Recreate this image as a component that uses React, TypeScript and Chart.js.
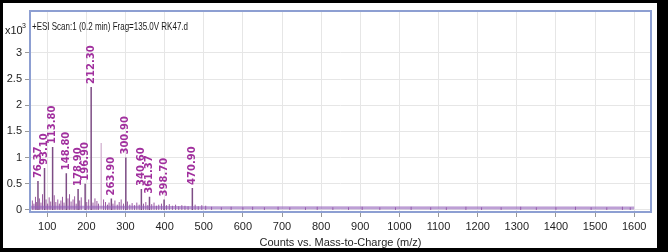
import React, { useEffect, useRef } from "react";
import { Chart, registerables } from "chart.js";

Chart.register(...registerables);

const titleText = "+ESI Scan:1 (0.2 min) Frag=135.0V RK47.d";
const xAxisTitle = "Counts vs. Mass-to-Charge (m/z)";

const peakMz = [76.37, 93.1, 113.8, 148.8, 178.9, 196.9, 212.3, 263.9, 300.9, 340.6, 361.37, 398.7, 470.9];
const peakIntensity = [0.55, 0.8, 1.2, 0.7, 0.4, 0.5, 2.35, 0.22, 1.0, 0.4, 0.25, 0.2, 0.42];
const peakLabels = ["76.37", "93.10", "113.80", "148.80", "178.90", "196.90", "212.30", "263.90", "300.90", "340.60", "361.37", "398.70", "470.90"];

const paleMz = [238.0];
const paleIntensity = [1.28];

const noiseMz = [
  62, 66, 70, 73, 80, 84, 88, 97, 101, 105, 109, 118, 122, 127, 131, 135, 139, 143, 153, 157,
  161, 166, 170, 174, 183, 187, 201, 206, 217, 222, 227, 231, 244, 249, 254, 258, 268, 273, 279,
  284, 289, 295, 305, 311, 317, 323, 329, 335, 346, 352, 357, 367, 373, 379, 385, 392, 405, 412,
  420, 428, 436, 444, 452, 460, 478, 486, 495, 505, 520, 545, 570, 600, 625, 655, 690, 720, 760,
  790, 830, 870, 905, 950, 990, 1030, 1080, 1120, 1170, 1210, 1260, 1310, 1350, 1400, 1450, 1490,
  1530, 1570, 1590,
];
const noiseIntensity = [
  0.18, 0.12, 0.25, 0.15, 0.22, 0.14, 0.3, 0.2, 0.12, 0.24, 0.16, 0.28, 0.15, 0.2, 0.12, 0.18,
  0.25, 0.14, 0.22, 0.3, 0.16, 0.2, 0.26, 0.12, 0.18, 0.24, 0.15, 0.2, 0.14, 0.22, 0.17, 0.12,
  0.2, 0.15, 0.1, 0.14, 0.12, 0.18, 0.1, 0.15, 0.2, 0.12, 0.16, 0.1, 0.13, 0.09, 0.14, 0.1, 0.12,
  0.15, 0.09, 0.11, 0.14, 0.08, 0.1, 0.12, 0.09, 0.11, 0.08, 0.1, 0.07, 0.09, 0.08, 0.07, 0.1,
  0.07, 0.09, 0.08, 0.06, 0.05, 0.06, 0.05, 0.06, 0.05, 0.06, 0.05, 0.05, 0.06, 0.05, 0.05, 0.06,
  0.05, 0.05, 0.06, 0.05, 0.05, 0.06, 0.05, 0.05, 0.06, 0.05, 0.05, 0.06, 0.05, 0.05, 0.06, 0.05,
];

const baselineMz = [56, 330, 520, 1600];
const baselineIntensity = [0.05, 0.05, 0.04, 0.035];

const xTicks = [100, 200, 300, 400, 500, 600, 700, 800, 900, 1000, 1100, 1200, 1300, 1400, 1500, 1600];
const yTicks = [0, 0.5, 1, 1.5, 2, 2.5, 3];

function sticks(mz: number[], h: number[]) {
  const pts: { x: number; y: number | null }[] = [];
  mz.forEach((m, i) => {
    pts.push({ x: m, y: 0 });
    pts.push({ x: m, y: h[i] });
    pts.push({ x: m, y: null });
  });
  return pts;
}

function line(mz: number[], h: number[]) {
  return mz.map((m, i) => ({ x: m, y: h[i] }));
}

const FONT = "'Liberation Sans Narrow', 'Liberation Sans', Arial, sans-serif";

export default function App() {
  const ref = useRef<HTMLCanvasElement | null>(null);

  useEffect(() => {
    if (!ref.current) return;
    const overlay = {
      id: "overlay",
      beforeDatasetsDraw(chart: any) {
        const { ctx, chartArea: a } = chart;
        ctx.save();
        ctx.fillStyle = "#1a1a1a";
        ctx.font = `11px ${FONT}`;
        ctx.textBaseline = "middle";
        ctx.textAlign = "left";
        ctx.fillText(titleText, a.left + 2, 27, 156);
        ctx.restore();
      },
      afterDatasetsDraw(chart: any) {
        const { ctx, chartArea: a, scales } = chart;
        const xs = scales.x;
        const ys = scales.y;
        ctx.save();
        ctx.fillStyle = "#a1309e";
        ctx.font = `bold 10px 'DejaVu Sans', sans-serif`;
        ctx.textBaseline = "middle";
        ctx.textAlign = "left";
        peakMz.forEach((m, i) => {
          const px = xs.getPixelForValue(m);
          const py = ys.getPixelForValue(peakIntensity[i]);
          ctx.save();
          ctx.translate(px, py - 3);
          ctx.rotate(-Math.PI / 2);
          ctx.fillText(peakLabels[i], 0, 0);
          ctx.restore();
        });
        ctx.restore();
        ctx.save();
        ctx.strokeStyle = "#8d9fd2";
        ctx.lineWidth = 2;
        ctx.strokeRect(a.left, a.top, a.right - a.left, a.bottom - a.top);
        ctx.restore();
        ctx.save();
        ctx.fillStyle = "#1a1a1a";
        ctx.font = `11px ${FONT}`;
        ctx.textBaseline = "middle";
        ctx.textAlign = "left";
        ctx.fillText("x10", 5, 31);
        ctx.font = `7px ${FONT}`;
        ctx.fillText("3", 22, 26);
        ctx.restore();
      },
    };

    const chart = new Chart(ref.current, {
      type: "scatter",
      data: {
        datasets: [
          {
            data: line(baselineMz, baselineIntensity),
            showLine: true,
            borderColor: "rgba(145,95,185,0.6)",
            borderWidth: 3,
            pointRadius: 0,
          },
          {
            data: sticks(noiseMz, noiseIntensity),
            showLine: true,
            spanGaps: false,
            borderColor: "#9a5aa0",
            borderWidth: 1,
            pointRadius: 0,
          },
          {
            data: sticks(paleMz, paleIntensity),
            showLine: true,
            spanGaps: false,
            borderColor: "#d8bcd6",
            borderWidth: 1.5,
            pointRadius: 0,
          },
          {
            data: sticks(peakMz, peakIntensity),
            showLine: true,
            spanGaps: false,
            borderColor: "#7d4d85",
            borderWidth: 1.5,
            pointRadius: 0,
          },
        ],
      },
      options: {
        animation: false,
        responsive: false,
        maintainAspectRatio: false,
        layout: { padding: { left: 0, top: 11, right: 17, bottom: 0 } },
        plugins: { legend: { display: false }, tooltip: { enabled: false }, title: { display: false } },
        scales: {
          x: {
            type: "linear",
            min: 56,
            max: 1643,
            afterBuildTicks: (s: any) => {
              s.ticks = xTicks.map((v) => ({ value: v }));
            },
            afterFit: (s: any) => {
              s.height = 40;
            },
            border: { display: false },
            grid: { color: "#e6e6e6", tickLength: 5, tickColor: "#999" },
            ticks: {
              color: "#1f1f1f",
              font: { family: FONT, size: 11 },
              padding: 3,
              maxRotation: 0,
              autoSkip: false,
              callback: (v: any) => String(v),
            },
            title: {
              display: true,
              text: xAxisTitle,
              color: "#1f1f1f",
              font: { family: FONT, size: 11 },
              padding: { top: 0, bottom: 2 },
            },
          },
          y: {
            type: "linear",
            min: -0.04,
            max: 3.8,
            afterBuildTicks: (s: any) => {
              s.ticks = yTicks.map((v) => ({ value: v }));
            },
            afterFit: (s: any) => {
              s.width = 30;
            },
            border: { display: false },
            grid: { color: "#e6e6e6", tickLength: 5, tickColor: "#999" },
            ticks: {
              color: "#1f1f1f",
              font: { family: FONT, size: 11 },
              padding: 3,
              callback: (v: any) => String(v),
            },
          },
        },
      },
      plugins: [overlay],
    } as any);
    return () => chart.destroy();
  }, []);

  return (
    <div style={{ position: "fixed", left: 0, top: 0, width: 668, height: 252, background: "#000" }}>
      <div style={{ position: "absolute", left: 3, top: 3, width: 654, height: 245, background: "#fff" }} />
      <canvas ref={ref} width={668} height={252} style={{ position: "absolute", left: 0, top: 0, width: 668, height: 252 }} />
    </div>
  );
}
